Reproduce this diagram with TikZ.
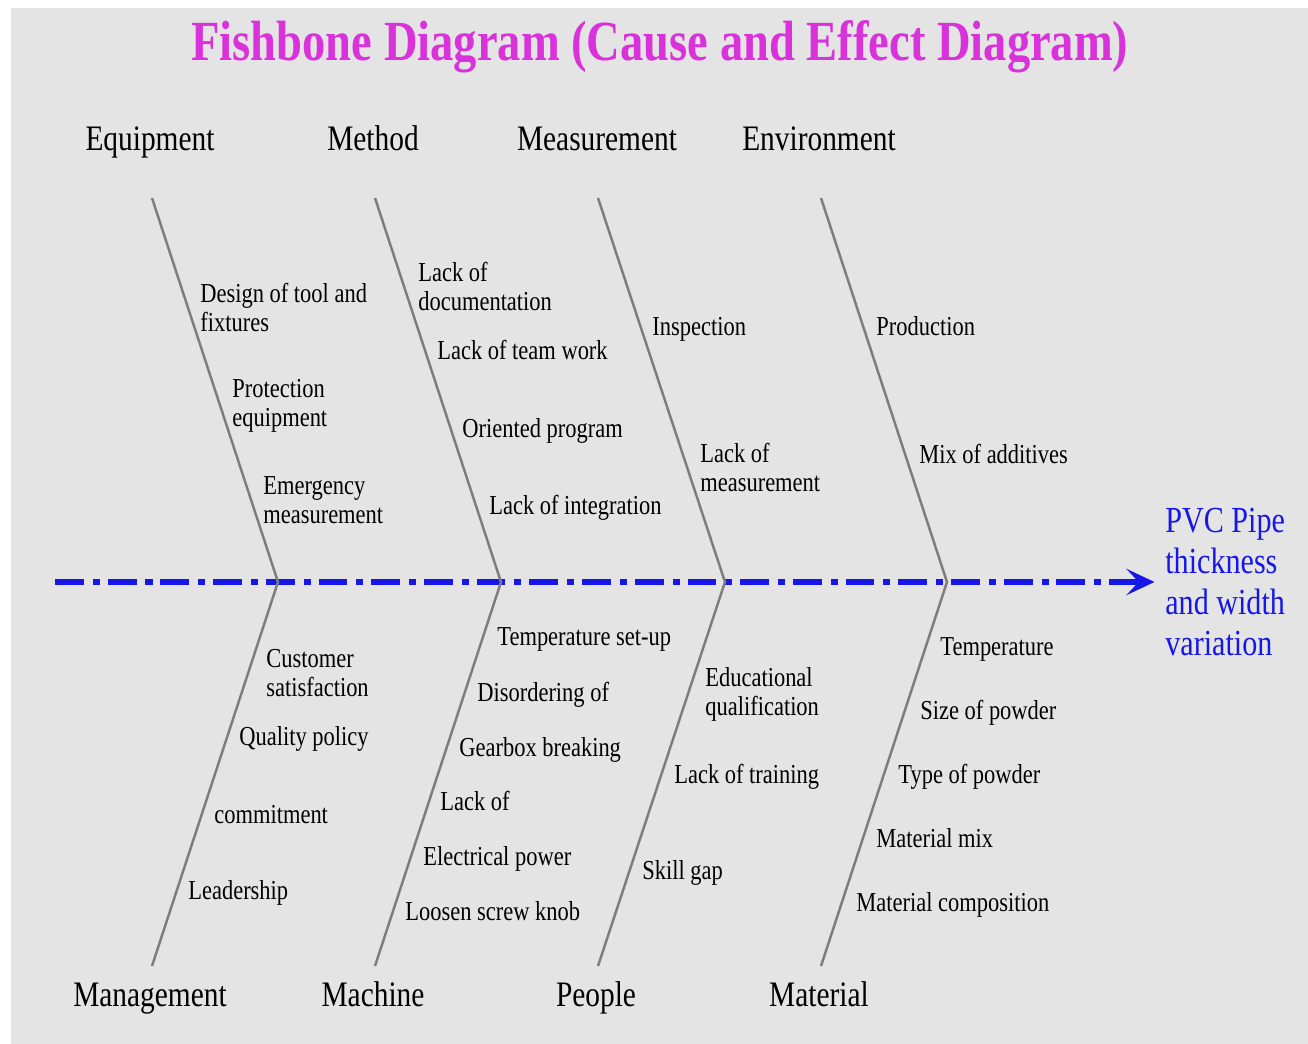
\documentclass[tikz,border=0pt]{standalone}
\usepackage{fontspec}
\setmainfont{Liberation Serif}[FakeStretch=0.82]
\usetikzlibrary{arrows.meta,positioning}
\definecolor{bggray}{RGB}{228,228,228}
\definecolor{bonegray}{RGB}{125,125,125}
\definecolor{titlemag}{RGB}{218,50,218}
\definecolor{spineblue}{RGB}{22,22,232}
\tikzset{
  bone/.style={draw=bonegray, line width=1.4pt},
  spine/.style={draw=spineblue, line width=3pt,
    dash pattern=on 16.4pt off 5.1pt on 4pt off 4.5pt,
    -{Stealth[length=16pt, width=15pt, inset=7pt]}},
  category/.style={anchor=base, inner sep=0pt, font=\fontsize{20.4}{24}\selectfont},
  cause/.style={anchor=base west, align=left, inner sep=0pt,
    font=\fontsize{15.6}{16}\selectfont},
  title/.style={inner sep=0pt, text=titlemag, font=\fontsize{32.3}{36}\selectfont\bfseries},
  effect/.style={anchor=west, align=left, inner sep=0pt, text=spineblue,
    font=\fontsize{20.9}{23.5}\selectfont}
}
\begin{document}
\begin{tikzpicture}[x=0.02cm, y=-0.02cm]
  \useasboundingbox (0,0) rectangle (1308,1044);
  \fill[bggray] (11,8) rectangle (1308,1044);

  \node[title] (title) at (660,47) {Fishbone Diagram (Cause and Effect Diagram)};

  % bone ends
  \coordinate (eqTop) at (152,198);
  \coordinate (eqJoin) at (278,582);
  \coordinate (mgBot) at (152,966);
  \coordinate (meTop) at (375,198);
  \coordinate (meJoin) at (501,582);
  \coordinate (maBot) at (375,966);
  \coordinate (msTop) at (598,198);
  \coordinate (msJoin) at (725,582);
  \coordinate (peBot) at (598,966);
  \coordinate (enTop) at (821,198);
  \coordinate (enJoin) at (947,582);
  \coordinate (mtBot) at (821,966);
  \coordinate (tail) at (55,582);

  % spine and effect
  \node[effect] (effect) at (1165,582) {PVC Pipe\\thickness\\and width\\variation};
  \draw[spine, shorten >=6pt] (tail) -- (effect.west);

  % bones
  \draw[bone] (eqTop) -- (eqJoin) -- (mgBot);
  \draw[bone] (meTop) -- (meJoin) -- (maBot);
  \draw[bone] (msTop) -- (msJoin) -- (peBot);
  \draw[bone] (enTop) -- (enJoin) -- (mtBot);

  % categories
  \node[category] (equipment) at (150,151) {Equipment};
  \node[category] (method) at (373,151) {Method};
  \node[category] (measurement) at (597,151) {Measurement};
  \node[category] (environment) at (819,151) {Environment};
  \node[category] (management) at (150,1006) {Management};
  \node[category] (machine) at (373,1006) {Machine};
  \node[category] (people) at (596,1006) {People};
  \node[category] (material) at (819,1006) {Material};

  % causes, top (two-line ones sit on their last line)
  \node[cause] (design) at (200,331) {Design of tool and\\fixtures};
  \node[cause] (protection) at (232,426) {Protection\\equipment};
  \node[cause] (emergency) at (263,523) {Emergency\\measurement};
  \node[cause] (documentation) at (418,310) {Lack of\\documentation};
  \node[cause] (teamwork) at (437,359) {Lack of team work};
  \node[cause] (oriented) at (462,437) {Oriented program};
  \node[cause] (integration) at (489,514) {Lack of integration};
  \node[cause] (inspection) at (652,335) {Inspection};
  \node[cause] (lackmeas) at (700,491) {Lack of\\measurement};
  \node[cause] (production) at (876,335) {Production};
  \node[cause] (additives) at (919,463) {Mix of additives};

  % causes, bottom
  \node[cause] (customer) at (266,696) {Customer\\satisfaction};
  \node[cause] (quality) at (239,745) {Quality policy};
  \node[cause] (commitment) at (214,823) {commitment};
  \node[cause] (leadership) at (188,899) {Leadership};
  \node[cause] (tempsetup) at (497,645) {Temperature set-up};
  \node[cause] (disordering) at (477,701) {Disordering of};
  \node[cause] (gearbox) at (459,756) {Gearbox breaking};
  \node[cause] (lackof) at (440,810) {Lack of};
  \node[cause] (electrical) at (423,865) {Electrical power};
  \node[cause] (screw) at (405,920) {Loosen screw knob};
  \node[cause] (educational) at (705,715) {Educational\\qualification};
  \node[cause] (training) at (674,783) {Lack of training};
  \node[cause] (skill) at (642,879) {Skill gap};
  \node[cause] (temperature) at (940,655) {Temperature};
  \node[cause] (size) at (920,719) {Size of powder};
  \node[cause] (type) at (898,783) {Type of powder};
  \node[cause] (mix) at (876,847) {Material mix};
  \node[cause] (composition) at (856,911) {Material composition};
\end{tikzpicture}
\end{document}
